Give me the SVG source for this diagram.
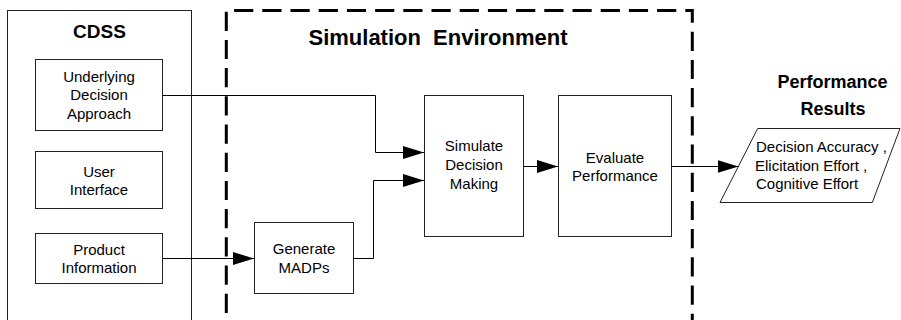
<svg xmlns="http://www.w3.org/2000/svg" width="901" height="320" viewBox="0 0 901 320">
<defs>
<marker id="arr" markerWidth="21" markerHeight="13" refX="21" refY="6.5" orient="auto" markerUnits="userSpaceOnUse">
<path d="M0,0 L21,6.5 L0,13 Z" fill="#000"/>
</marker>
<style>
.box{fill:#fff;stroke:#222;stroke-width:1}
.t{font-family:"Liberation Sans",Arial,sans-serif;font-size:15px;fill:#000;text-anchor:middle}
.b{font-family:"Liberation Sans",Arial,sans-serif;font-weight:bold;fill:#000;text-anchor:middle}
.c{fill:none;stroke:#000;stroke-width:1}
.dash{fill:none;stroke:#000;stroke-width:3;stroke-dasharray:19.2 9}
</style>
</defs>
<rect width="901" height="320" fill="#fff"/>
<g id="cdss">
<rect class="box" x="7.5" y="10.5" width="184" height="330"/>
<text class="b" x="99.5" y="38" font-size="19">CDSS</text>
</g>
<g id="sim-env">
<path class="dash" d="M226.3,330 V10.5 H692.3 V330" stroke-dashoffset="11.1"/>
<text class="b" x="438" y="44.5" font-size="22" word-spacing="6">Simulation Environment</text>
</g>
<g id="underlying">
<rect class="box" x="35.5" y="59.5" width="127" height="71"/>
<text class="t" x="99" y="81.5">Underlying</text>
<text class="t" x="99" y="100">Decision</text>
<text class="t" x="99" y="118.5">Approach</text>
</g>
<g id="user-interface">
<rect class="box" x="35.5" y="151.5" width="127" height="57"/>
<text class="t" x="99" y="176.5">User</text>
<text class="t" x="99" y="195">Interface</text>
</g>
<g id="product-info">
<rect class="box" x="35.5" y="233.5" width="127" height="50"/>
<text class="t" x="99" y="254.5">Product</text>
<text class="t" x="99" y="273">Information</text>
</g>
<g id="generate">
<rect class="box" x="254.5" y="222.5" width="99" height="71"/>
<text class="t" x="304" y="254">Generate</text>
<text class="t" x="304" y="272.5">MADPs</text>
</g>
<g id="simulate">
<rect class="box" x="424.5" y="95.5" width="99" height="141"/>
<text class="t" x="474" y="151">Simulate</text>
<text class="t" x="474" y="170">Decision</text>
<text class="t" x="474" y="189">Making</text>
</g>
<g id="evaluate">
<rect class="box" x="558.5" y="95.5" width="113" height="141"/>
<text class="t" x="615" y="162.5">Evaluate</text>
<text class="t" x="615" y="181">Performance</text>
</g>
<g id="results">
<text class="b" x="832.5" y="87.5" font-size="18">Performance</text>
<text class="b" x="833" y="115" font-size="18">Results</text>
<polygon class="box" points="757.7,128.5 900,128.5 872.3,202.5 720,202.5"/>
<text class="t" x="756" y="152" text-anchor="start" style="text-anchor:start">Decision Accuracy ,</text>
<text class="t" x="755" y="170.5" style="text-anchor:start">Elicitation Effort ,</text>
<text class="t" x="756" y="189" style="text-anchor:start">Cognitive Effort</text>
</g>
<g id="connectors">
<path class="c" d="M162.5,95.5 H375.5 V152.5 H424" marker-end="url(#arr)"/>
<path class="c" d="M162.5,258.5 H254" marker-end="url(#arr)"/>
<path class="c" d="M353.5,258.5 H373.5 V180.5 H424" marker-end="url(#arr)"/>
<path class="c" d="M523.5,166.5 H558" marker-end="url(#arr)"/>
<path class="c" d="M671.5,166.5 H738.5" marker-end="url(#arr)"/>
</g>
</svg>
